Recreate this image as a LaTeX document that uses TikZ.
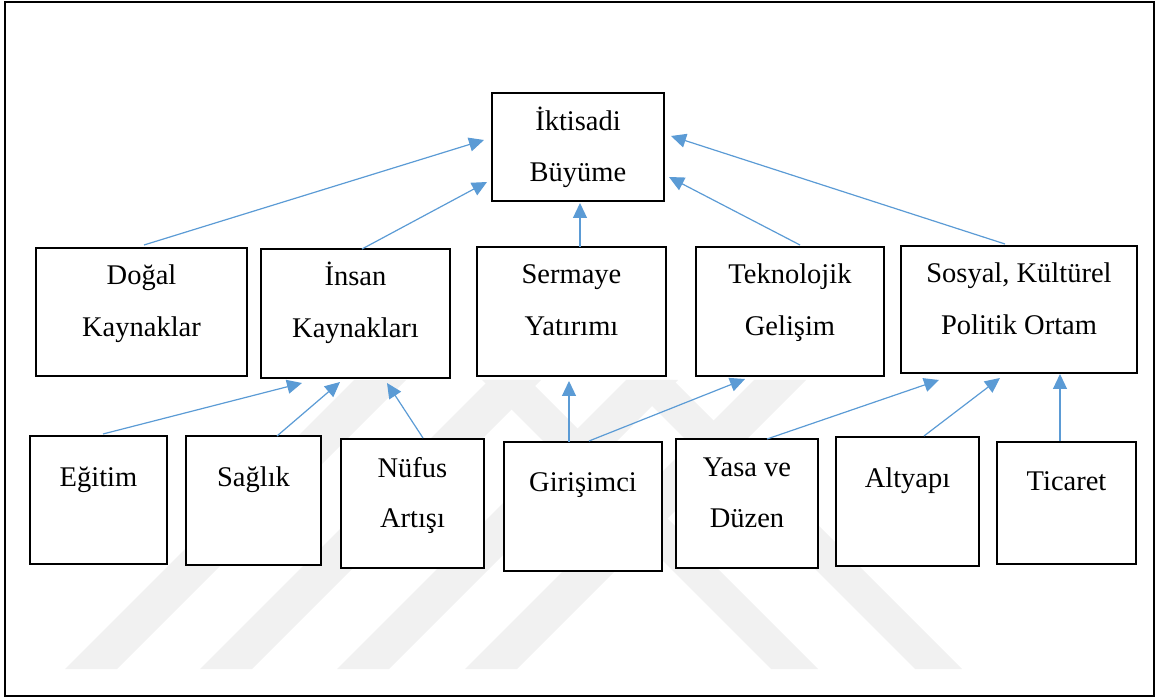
\documentclass[tikz,border=0pt]{standalone}
\usepackage{fontspec}
\setmainfont{Liberation Serif}
\usetikzlibrary{arrows.meta,calc}
\definecolor{arrblue}{HTML}{5B9BD5}
\definecolor{wmgray}{HTML}{F1F1F1}
\begin{document}
\begin{tikzpicture}[x=1pt,y=-1pt,
  box/.style={draw=black, line width=2pt, fill=white, rectangle, inner sep=0pt, outer sep=0pt},
  lbl/.style={anchor=base, inner sep=0pt, font=\fontsize{28.5}{34}\selectfont},
  arr/.style={draw=arrblue, line width=1.2pt, -{Triangle[length=15pt,width=14pt]}},
  wm/.style={fill=wmgray, draw=none}]
\useasboundingbox (0,0) rectangle (1160,700);
% watermark stripes (approximate)
\foreach \b in {65,200,337,465}{
  \fill[wm] (\b,669) -- (\b+52,669) -- (\b+52+289,380) -- (\b+289,380) -- cycle;
}
\foreach \b in {771,915}{
  \fill[wm] (\b,669) -- (\b+47,669) -- (\b+47-289,380) -- (\b-289,380) -- cycle;
}
% outer frame
\draw[line width=2pt] (5,2) rectangle (1154,696);
% boxes
\node[box, minimum width=172pt, minimum height=108pt] (ikt) at (578,147) {};
\node[box, minimum width=211pt, minimum height=128pt] (dogal) at (141.5,312) {};
\node[box, minimum width=189pt, minimum height=129pt] (insan) at (355.5,313.5) {};
\node[box, minimum width=189pt, minimum height=129pt] (sermaye) at (571.5,311.5) {};
\node[box, minimum width=188pt, minimum height=129pt] (tekno) at (790,311.5) {};
\node[box, minimum width=236pt, minimum height=127pt] (sosyal) at (1019,309.5) {};
\node[box, minimum width=137pt, minimum height=128pt] (egitim) at (98.5,500) {};
\node[box, minimum width=135pt, minimum height=129pt] (saglik) at (253.5,500.5) {};
\node[box, minimum width=143pt, minimum height=129pt] (nufus) at (412.5,503.5) {};
\node[box, minimum width=158pt, minimum height=129pt] (girisim) at (583,506.5) {};
\node[box, minimum width=142pt, minimum height=129pt] (yasa) at (747,503.5) {};
\node[box, minimum width=143pt, minimum height=129pt] (altyapi) at (907.5,501.5) {};
\node[box, minimum width=139pt, minimum height=122pt] (ticaret) at (1066.5,503) {};
% labels
\node[lbl] (ikt1) at (578,131) {İktisadi};
\node[lbl] (ikt2) at (578,182) {Büyüme};
\node[lbl] (dogal1) at (141.5,285) {Doğal};
\node[lbl] (dogal2) at (141.5,337) {Kaynaklar};
\node[lbl] (insan1) at (355.5,286) {İnsan};
\node[lbl] (insan2) at (355.5,338) {Kaynakları};
\node[lbl] (sermaye1) at (571.5,284) {Sermaye};
\node[lbl] (sermaye2) at (571.5,336) {Yatırımı};
\node[lbl] (tekno1) at (790,284) {Teknolojik};
\node[lbl] (tekno2) at (790,336) {Gelişim};
\node[lbl] (sosyal1) at (1019,283) {Sosyal, Kültürel};
\node[lbl] (sosyal2) at (1019,335) {Politik Ortam};
\node[lbl] (egitim1) at (98.5,487) {Eğitim};
\node[lbl] (saglik1) at (253.5,487) {Sağlık};
\node[lbl] (nufus1) at (412.5,478) {Nüfus};
\node[lbl] (nufus2) at (412.5,527) {Artışı};
\node[lbl] (girisim1) at (583,492) {Girişimci};
\node[lbl] (yasa1) at (747,477) {Yasa ve};
\node[lbl] (yasa2) at (747,527) {Düzen};
\node[lbl] (altyapi1) at (907.5,488) {Altyapı};
\node[lbl] (ticaret1) at (1066.5,491) {Ticaret};
% connectors
\draw[arr] ($(dogal.north)+(2.5,-3)$) -- ($(ikt.north west)+(-8,47)$);
\draw[arr] ($(insan.north)+(6.5,0)$) -- ($(ikt.north west)+(-5,89)$);
\draw[arr] ($(sermaye.north)+(8.5,0)$) -- ($(ikt.south)+(2,2)$);
\draw[arr] ($(tekno.north)+(10,-2)$) -- ($(ikt.north east)+(5,84)$);
\draw[arr] ($(sosyal.north)+(-14,-2)$) -- ($(ikt.north east)+(7,43)$);
\draw[arr] ($(egitim.north)+(4.5,-2)$) -- ($(insan.south west)+(41,5)$);
\draw[arr] ($(saglik.north)+(23.5,0)$) -- ($(insan.south west)+(79,4)$);
\draw[arr] ($(nufus.north)+(10.5,-1)$) -- ($(insan.south west)+(126,5)$);
\draw[arr] ($(girisim.north)+(-14,0)$) -- ($(sermaye.south)+(-2.5,5)$);
\draw[arr] ($(girisim.north)+(6,-1)$) -- ($(tekno.south west)+(49,3)$);
\draw[arr] ($(yasa.north)+(20,0)$) -- ($(sosyal.south west)+(38,7)$);
\draw[arr] ($(altyapi.north)+(16.5,-1)$) -- ($(sosyal.south west)+(99,5)$);
\draw[arr] ($(ticaret.north)+(-6.5,-1)$) -- ($(sosyal.south west)+(159,1)$);
\end{tikzpicture}
\end{document}
